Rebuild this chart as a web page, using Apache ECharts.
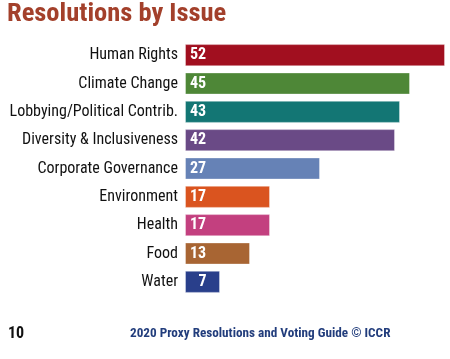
<!DOCTYPE html>
<html><head><meta charset="utf-8">
<script src="https://cdn.jsdelivr.net/npm/echarts@6/dist/echarts.min.js"></script>
<style>html,body{margin:0;padding:0;background:#fff}#c{width:450px;height:359px}</style>
</head><body><div id="c"></div>
<script>
const categories = ["Human Rights","Climate Change","Lobbying/Political Contrib.","Diversity & Inclusiveness","Corporate Governance","Environment","Health","Food","Water"];
const values = [52,45,43,42,27,17,17,13,7];
const barColors = ["#a10f1f","#4e8737","#137674","#6a4a86","#6682b6","#da541f","#c3407f","#a86533","#293f8b"];
const titleText = "Resolutions by Issue";
const pageNumber = "10";
const footerText = "2020 Proxy Resolutions and Voting Guide © ICCR";

const chart = echarts.init(document.getElementById('c'), null, {renderer:'canvas'});
const narrow = '"Roboto Condensed",sans-serif';
chart.setOption({
  animation:false,
  backgroundColor:'#fff',
  title:{text:titleText,left:7,top:1,padding:0,textStyle:{fontFamily:narrow,fontWeight:'bold',fontSize:26.5,color:'#a3402b'}},
  graphic:[
    {type:'text',left:8,top:326,style:{text:pageNumber,fontFamily:narrow,fontWeight:'bold',fontSize:16,fill:'#111'}},
    {type:'text',left:130,top:327,style:{text:footerText,fontFamily:narrow,fontWeight:'bold',fontSize:13.2,fill:'#223d7c'}}
  ],
  grid:{left:185,right:5,top:41,bottom:63,outerBoundsMode:'none',containLabel:false},
  xAxis:{type:'value',min:0,max:52,show:false},
  yAxis:{type:'category',data:categories,inverse:true,
    axisLine:{show:false},axisTick:{show:false},
    axisLabel:{margin:7,fontFamily:narrow,fontSize:16,color:'#111'}},
  series:[{type:'bar',barCategoryGap:'22%',
    data:values.map((v,i)=>({value:v,itemStyle:{color:barColors[i]},
      label: v < 10 ? {position:'inside'} : undefined})),
    itemStyle:{borderColor:'rgba(255,255,255,0.35)',borderWidth:1},
    label:{show:true,position:'insideLeft',distance:5,fontFamily:narrow,fontWeight:'bold',fontSize:16,color:'#fff'}
  }]
});
</script></body></html>
